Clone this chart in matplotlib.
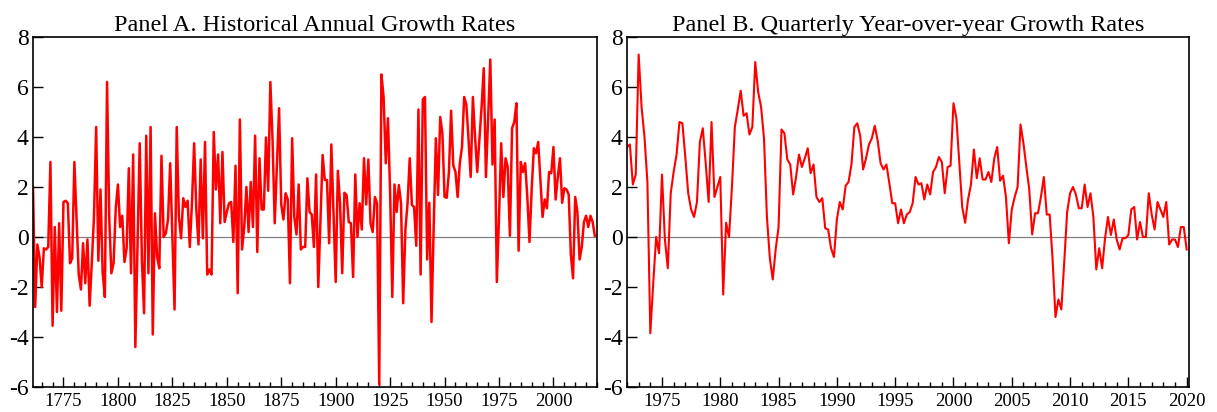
import numpy as np
import matplotlib.pyplot as plt
from matplotlib.ticker import MultipleLocator

plt.rcParams['font.family'] = ['Liberation Serif', 'DejaVu Serif']
plt.rcParams['axes.unicode_minus'] = False

# Panel A: annual growth rates, 1761-2019
annual_start = 1761
annual_growth = [
    # 1761-1805
    2.0, -2.8, -0.3, -0.8, -2.0, -0.45, -0.5, -0.4, 3.0, -3.55,
    0.4, -3.0, 0.55, -2.95, 1.4, 1.45, 1.35, -1.05, -0.85, 3.0,
    0.8, -1.5, -2.1, -0.25, -1.85, -0.1, -2.75, -1.05, 0.8, 4.4,
    -0.95, 1.9, -1.45, -2.4, 6.2, 0.75, -1.45, -1.05, 1.15, 2.1,
    0.4, 0.85, -1.0, -0.45, 2.75,
    # 1806-1848
    -1.45, 3.3, -4.4, -0.3, 3.75, -0.9, -3.05, 4.05, -1.45, 4.4,
    -3.9, 0.95, -0.8, -1.25, 3.25, 0.0, 0.15, 0.7, 2.95, 0.0,
    -2.9, 4.4, 0.8, -0.05, 1.55, 1.2, 1.45, -0.4, 1.35, 3.75,
    1.1, -0.3, 3.1, -0.05, 3.8, -1.5, -1.3, -1.5, 4.2, 1.9,
    3.3, 0.55, 3.4,
    # 1849-1892
    0.6, 1.0, 1.35, 1.4, -0.2, 2.85, -2.25, 4.7, -0.5, 0.4,
    2.0, 0.2, 2.2, 0.4, 4.05, -0.6, 3.15, 1.1, 1.1, 3.98,
    1.85, 6.2, 3.9, 0.55, 2.8, 5.15, 1.3, 0.7, 1.75, 1.5,
    -1.85, 3.95, 0.8, 0.1, 2.1, -0.5, -0.4, -0.4, 2.35, 1.0,
    0.9, -0.4, 2.5, -2.0,
    # 1893-1936
    0.6, 3.28, 2.28, 2.28, -0.25, 3.7, 0.9, -1.8, 2.65, 1.35,
    -1.45, 1.77, 1.68, 0.6, 0.55, -1.6, 2.5, 0.0, 1.35, 0.3,
    3.15, 1.3, 3.1, 0.55, 0.2, 1.6, 1.35, -5.9, 6.5, 5.6,
    2.95, 4.75, 1.75, -2.4, 2.1, 1.0, 2.08, 1.35, -2.65, 0.28,
    1.35, 3.15, 1.28, 1.2,
    # 1937-1977
    -0.35, 5.1, -1.5, 5.5, 5.6, -0.9, 1.37, -3.4, 0.4, 3.95,
    1.68, 4.8, 4.15, 1.6, 1.57, 2.6, 5.05, 2.87, 2.6, 1.6,
    2.95, 3.6, 5.6, 5.3, 3.9, 2.4, 5.6, 4.0, 2.6, 3.9,
    5.2, 6.75, 2.4, 4.8, 7.1, 2.9, 4.7, -1.8, 0.8, 3.75,
    1.6,
    # 1978-2019
    3.15, 2.8, 0.05, 4.35, 4.6, 5.35, -0.55, 3.0, 2.6, 2.95,
    1.6, -0.2, 1.9, 3.55, 3.35, 3.8, 2.3, 0.8, 1.5, 1.15,
    2.6, 2.55, 3.6, 1.5, 2.4, 3.15, 1.37, 1.95, 1.9, 1.7,
    -0.7, -1.65, 1.6, 1.0, -0.9, -0.4, 0.6, 0.85, 0.4, 0.85,
    0.6, 0.05,
]

# Panel B: quarterly year-over-year growth rates, 1972Q1-2020Q1
quarterly_start = 1972
quarterly_growth = [
    # 1972-1979
    3.6, 3.7, 2.1, 2.5, 7.3, 5.2, 4.0, 2.2,
    -3.85, -1.85, 0.0, -0.65, 2.5, -0.1, -1.25, 1.75,
    2.6, 3.3, 4.6, 4.55, 3.2, 1.75, 1.1, 0.8,
    1.4, 3.8, 4.35, 2.95, 1.4, 4.6, 1.6, 2.0,
    # 1980-1989
    2.4, -2.3, 0.57, 0.0, 2.0, 4.4, 5.1, 5.85, 4.85, 4.95,
    4.1, 4.4, 7.0, 5.8, 5.2, 3.95, 0.8, -0.85, -1.7, -0.5,
    0.4, 4.3, 4.15, 3.1, 2.9, 1.7, 2.4, 3.3, 2.8, 3.15,
    3.55, 2.55, 2.9, 1.6, 1.4, 1.55, 0.35, 0.3, -0.45, -0.8,
    # 1990-1999
    0.7, 1.4, 1.1, 2.05, 2.2, 2.9, 4.4, 4.55, 4.05, 2.7,
    3.15, 3.7, 3.95, 4.45, 3.85, 2.95, 2.7, 2.9, 2.15, 1.35,
    1.35, 0.55, 1.1, 0.55, 0.9, 1.0, 1.35, 2.4, 2.1, 2.15,
    1.5, 2.1, 1.7, 2.6, 2.8, 3.2, 3.0, 1.75, 2.8, 2.85,
    # 2000-2009
    5.35, 4.75, 2.95, 1.2, 0.57, 1.5, 2.1, 3.5, 2.35, 3.15,
    2.3, 2.3, 2.6, 2.2, 3.15, 3.6, 2.25, 2.45, 1.6, -0.25,
    1.1, 1.6, 2.0, 4.5, 3.75, 2.8, 1.9, 0.1, 0.95, 0.95,
    1.6, 2.4, 0.9, 0.9, -0.9, -3.2, -2.5, -2.9, -1.0, 1.0,
    # 2010-2020Q1
    1.75, 2.0, 1.7, 1.15, 1.15, 2.1, 1.2, 1.75,
    0.8, -1.3, -0.45, -1.25, -0.05, 0.8, 0.08, 0.7,
    -0.1, -0.5, -0.05, -0.05, 0.08, 1.1, 1.2, -0.1,
    0.6, 0.0, 0.0, 1.75, 0.9, 0.3, 1.4, 1.1,
    0.8, 1.4, -0.3, -0.1, -0.1, -0.4, 0.4, 0.4,
    -0.5,
]

annual_years = annual_start + np.arange(len(annual_growth))
quarter_dates = quarterly_start + np.arange(len(quarterly_growth)) / 4.0


def style_axis(ax, title):
    ax.axhline(0, color='#808080', lw=0.9, zorder=1)
    ax.set_ylim(-6, 8)
    ax.set_yticks(np.arange(-6, 9, 2))
    ax.set_title(title, fontsize=17.5, pad=4)
    for s in ax.spines.values():
        s.set_linewidth(1.2)
    ax.tick_params(axis='y', direction='in', length=7, width=1.0,
                   labelsize=17, pad=3)
    ax.tick_params(axis='x', which='major', direction='in', length=7,
                   width=1.0, labelsize=13.5, pad=4)
    ax.tick_params(axis='x', which='minor', direction='in', length=3.5,
                   width=1.0)


fig = plt.figure(figsize=(12.17, 4.12), dpi=100)

# Panel A
ax1 = fig.add_axes([33 / 1217, 25 / 412, 564 / 1217, 350 / 412])
ax1.plot(annual_years, annual_growth, color='red', lw=1.8, zorder=2)
ax1.set_xlim(1761, 2020)
ax1.set_xticks(np.arange(1775, 2001, 25))
ax1.xaxis.set_minor_locator(MultipleLocator(5))
style_axis(ax1, 'Panel A. Historical Annual Growth Rates')

# Panel B
ax2 = fig.add_axes([627 / 1217, 25 / 412, 562 / 1217, 350 / 412])
ax2.plot(quarter_dates, quarterly_growth, color='red', lw=1.5, zorder=2)
ax2.set_xlim(1972, 2020.2)
ax2.set_xticks(np.arange(1975, 2021, 5))
ax2.xaxis.set_minor_locator(MultipleLocator(1))
style_axis(ax2, 'Panel B. Quarterly Year-over-year Growth Rates')

fig.savefig('out.png', dpi=100)
